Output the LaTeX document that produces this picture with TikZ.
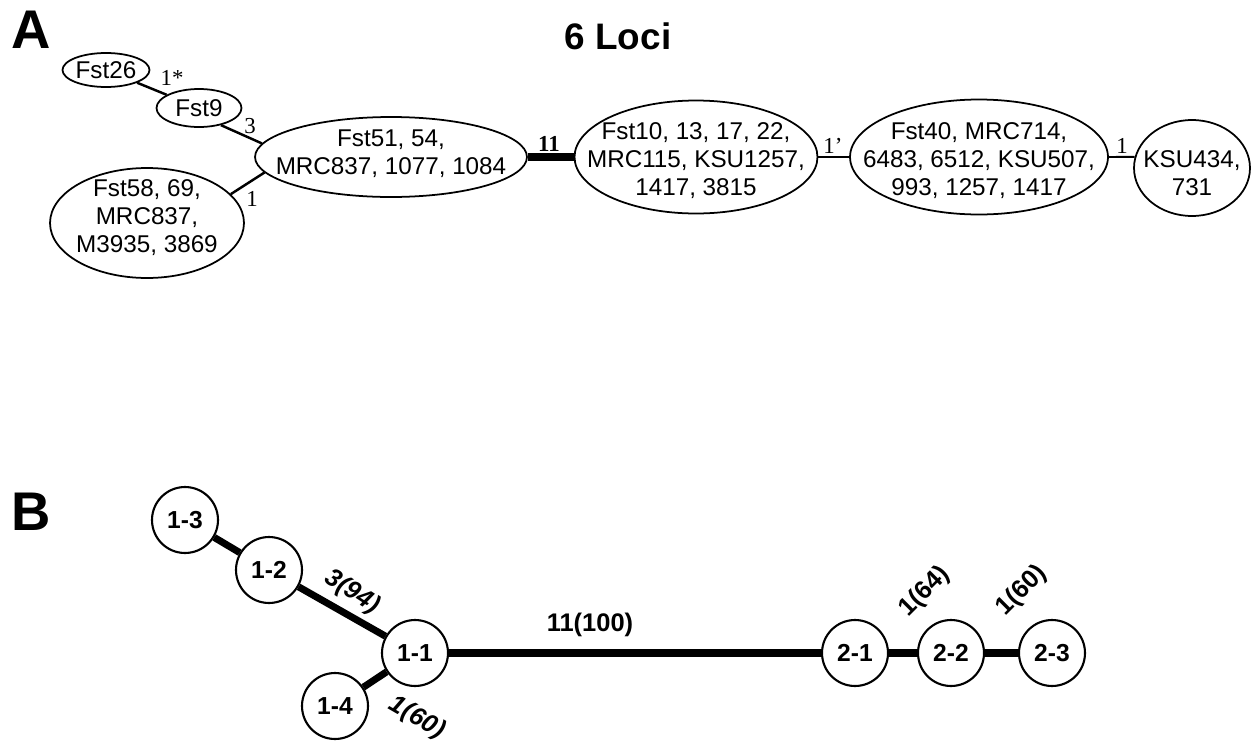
\documentclass[tikz,border=0pt]{standalone}
\usepackage{fontspec}
\setmainfont{Liberation Serif}
\setsansfont{Liberation Sans}
\usetikzlibrary{shapes.geometric}

\begin{document}
\begin{tikzpicture}[x=0.02cm, y=-0.02cm,
        locus/.style={draw, ellipse, line width=1pt, inner sep=0pt},
        loctxt/.style={align=center, font=\sffamily\fontsize{13.8}{15.9}\selectfont},
        hap/.style={draw, circle, line width=1.2pt, minimum size=1.32cm, inner sep=0pt,
            font=\sffamily\bfseries\fontsize{14}{14}\selectfont},
        steps/.style={font=\fontsize{13}{13}\selectfont},
        boot/.style={inner sep=0pt, font=\sffamily\bfseries\itshape\fontsize{14.5}{14.5}\selectfont},
        bootup/.style={inner sep=0pt, font=\sffamily\bfseries\fontsize{14.5}{14.5}\selectfont},
        panel/.style={font=\sffamily\bfseries\fontsize{31}{31}\selectfont},
        link/.style={line width=1.4pt},
        thin/.style={line width=1.1pt},
        fat/.style={line width=4pt}]
        \useasboundingbox (0,0) rectangle (1254,744);

        % panel A
        \node[panel] (pa) at (31,30) {A};
        \node[font=\sffamily\bfseries\fontsize{21}{21}\selectfont] (title) at (618,36) {6 Loci};

        \node[locus, minimum width=1.74cm, minimum height=0.68cm,
            label={[loctxt]center:Fst26}] (f26) at (106,70) {};
        \node[locus, minimum width=1.7cm, minimum height=0.76cm,
            label={[loctxt]center:Fst9}] (f9) at (199,108) {};
        \node[locus, minimum width=5.44cm, minimum height=1.6cm,
            label={[loctxt, yshift=0.06cm]center:{Fst51, 54,\\MRC837, 1077, 1084}}] (f51) at (391,157) {};
        \node[locus, minimum width=3.88cm, minimum height=2.2cm,
            label={[loctxt, yshift=0.1cm]center:{Fst58, 69,\\MRC837,\\M3935, 3869}}] (f58) at (147,223) {};
        \node[locus, minimum width=4.86cm, minimum height=2.26cm,
            label={[loctxt, yshift=-0.08cm]center:{Fst10, 13, 17, 22,\\MRC115, KSU1257,\\1417, 3815}}] (f10) at (696,157) {};
        \node[locus, minimum width=5.16cm, minimum height=2.3cm,
            label={[loctxt, yshift=-0.08cm]center:{Fst40, MRC714,\\6483, 6512, KSU507,\\993, 1257, 1417}}] (f40) at (979,157) {};
        \node[locus, minimum width=2.32cm, minimum height=1.92cm,
            label={[loctxt, yshift=-0.1cm]center:{KSU434,\\731}}] (k434) at (1192,168) {};

        \draw[link] (f26) -- (f9);
        \draw[link] (f9.-38) -- (f51.174);
        \draw[link] (f58.19) -- (f51.187);
        \draw[fat] (f51.east) -- (f10.west);
        \draw[thin] (f10.east) -- (f40.west);
        \draw[thin] (f40.east) -- (k434.169);

        \node[steps] (s1) at (172,78) {1*};
        \node[steps] (s2) at (250,126) {3};
        \node[steps] (s3) at (252,199) {1};
        \node[steps, font=\bfseries\fontsize{13}{13}\selectfont] (s4) at (549,144) {11};
        \node[steps] (s5) at (833,146) {1'};
        \node[steps] (s6) at (1122,146) {1};

        % panel B
        \node[panel] (pb) at (31,512) {B};

        \node[hap] (h13) at (185,520) {1-3};
        \node[hap] (h12) at (269,570) {1-2};
        \node[hap] (h11) at (415,653) {1-1};
        \node[hap] (h14) at (335,706) {1-4};
        \node[hap] (h21) at (855,653) {2-1};
        \node[hap] (h22) at (951,653) {2-2};
        \node[hap] (h23) at (1052,653) {2-3};

        \draw[fat] (h13) -- (h12);
        \draw[fat] (h12) -- (h11);
        \draw[fat] (h11) -- (h14);
        \draw[fat] (h11) -- (h21);
        \draw[fat] (h21) -- (h22);
        \draw[fat] (h22) -- (h23);

        \node[boot, rotate=-33] (b1) at (352,592) {3(94)};
        \node[boot, rotate=-30] (b2) at (417,718) {1(60)};
        \node[bootup] (b3) at (590,625) {11(100)};
        \node[bootup, rotate=45] (b4) at (925,592) {1(64)};
        \node[bootup, rotate=45] (b5) at (1022,591) {1(60)};
\end{tikzpicture}
\end{document}
